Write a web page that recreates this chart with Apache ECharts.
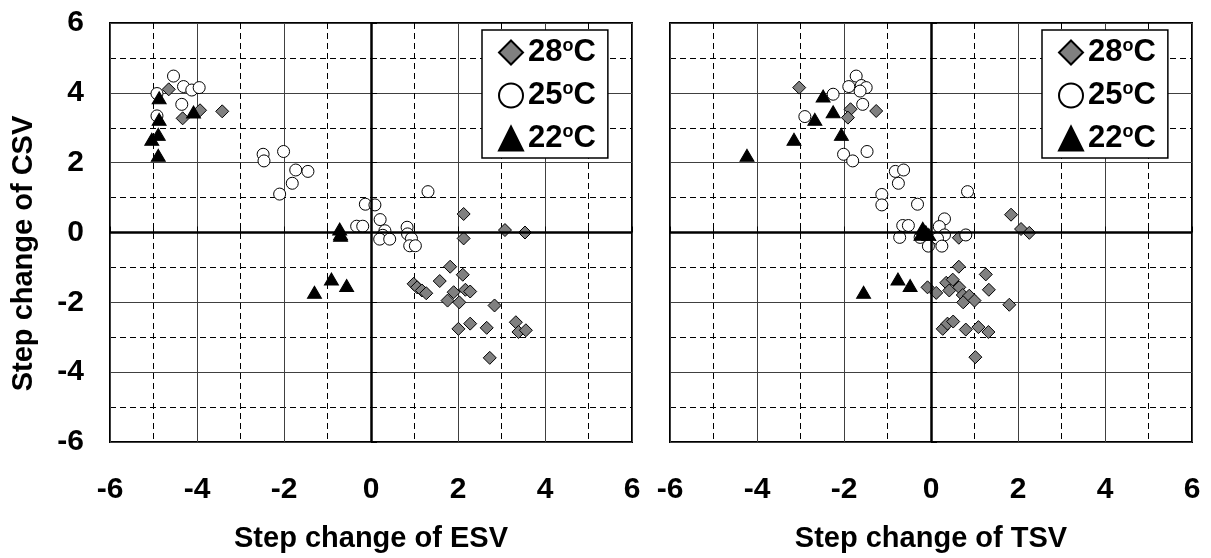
<!DOCTYPE html>
<html>
<head>
<meta charset="utf-8">
<script src="https://cdn.jsdelivr.net/npm/echarts@6/dist/echarts.min.js"></script>
<style>
  html, body { margin: 0; padding: 0; background: #fff; }
  #chart { width: 1211px; height: 558px; }
</style>
</head>
<body>
<div id="chart"></div>
<script>
// 图例名称（温度组）
const groupNames = ['28°C', '25°C', '22°C'];
const titleEsv = 'Step change of ESV';
const titleTsv = 'Step change of TSV';
const titleCsv = 'Step change of CSV';
const axisTicks = [-6, -4, -2, 0, 2, 4, 6];

// 左图: [ESV, CSV]
const esv28 = [
  [-4.65, 4.10], [-3.93, 3.50], [-4.33, 3.27], [-3.42, 3.47],
  [2.13, 0.53], [2.13, -0.17], [3.08, 0.07], [3.54, 0.00],
  [1.82, -0.98], [2.11, -1.21], [1.58, -1.39], [0.98, -1.47], [1.06, -1.57], [1.17, -1.66], [1.27, -1.74],
  [1.90, -1.71], [2.17, -1.64], [2.28, -1.69], [1.76, -1.95], [2.03, -2.00], [2.84, -2.09],
  [2.01, -2.76], [2.28, -2.61], [2.66, -2.73], [3.33, -2.57], [3.39, -2.85], [3.56, -2.80], [2.73, -3.59]
];
const esv25 = [
  [-4.54, 4.48], [-4.92, 3.98], [-4.31, 4.18], [-4.12, 4.08], [-3.95, 4.15], [-4.35, 3.67], [-4.92, 3.34],
  [-2.48, 2.24], [-2.46, 2.05], [-2.01, 2.32], [-1.73, 1.79], [-1.45, 1.75], [-1.81, 1.41], [-2.10, 1.10],
  [1.31, 1.17], [-0.13, 0.81], [0.09, 0.79], [0.21, 0.37], [-0.33, 0.18], [-0.19, 0.18], [0.32, 0.05],
  [0.27, -0.08], [0.20, -0.19], [0.43, -0.19], [0.83, 0.15], [0.84, -0.04], [0.93, -0.17], [0.89, -0.38], [1.02, -0.38]
];
const esv22 = [
  [-4.87, 3.86], [-4.08, 3.45], [-4.87, 3.24], [-4.89, 2.81], [-5.04, 2.67], [-4.89, 2.21],
  [-0.72, 0.10], [-0.70, -0.04], [-0.70, -0.08], [-0.91, -1.33], [-0.56, -1.52], [-1.30, -1.71]
];

// 右图: [TSV, CSV]
const tsv28 = [
  [-3.03, 4.15], [-1.85, 3.53], [-1.91, 3.29], [-1.26, 3.48],
  [0.64, -0.15], [1.84, 0.51], [2.07, 0.10], [2.26, -0.01], [0.64, -0.98], [1.26, -1.20], [1.33, -1.64],
  [1.80, -2.07], [-0.08, -1.57], [0.12, -1.73], [0.35, -1.44], [0.50, -1.35], [0.42, -1.66], [0.65, -1.57],
  [0.73, -1.79], [0.88, -1.81], [0.74, -2.00], [1.00, -1.95], [0.27, -2.76], [0.38, -2.61], [0.51, -2.55],
  [0.80, -2.78], [1.09, -2.71], [1.32, -2.85], [1.02, -3.57]
];
const tsv25 = [
  [-1.72, 4.48], [-1.89, 4.18], [-1.60, 4.21], [-1.49, 4.15], [-1.63, 4.05], [-2.25, 3.96], [-1.57, 3.67],
  [-2.90, 3.32], [-2.01, 2.24], [-1.80, 2.05], [-1.47, 2.32], [-0.82, 1.75], [-0.63, 1.79], [-0.75, 1.41],
  [-1.13, 1.09], [-1.13, 0.79], [-0.31, 0.81], [0.84, 1.17], [-0.65, 0.20], [-0.52, 0.20], [-0.72, -0.14],
  [0.31, 0.39], [0.19, 0.17], [0.31, -0.07], [0.15, -0.17], [-0.06, -0.39], [0.25, -0.39], [0.80, -0.07], [-0.25, -0.14]
];
const tsv22 = [
  [-2.48, 3.91], [-2.25, 3.46], [-2.67, 3.24], [-2.06, 2.81], [-3.15, 2.67], [-4.23, 2.21],
  [-0.19, 0.12], [-0.12, 0.02], [-0.23, -0.05], [-0.05, -0.06], [-0.76, -1.33], [-0.48, -1.52], [-1.55, -1.71]
];

const FONT = '"Liberation Sans", Arial, sans-serif';
const boldText = (size) => ({ fontFamily: FONT, fontWeight: 'bold', fontSize: size, color: '#000' });

// 坐标轴
function makeAxis(gridIndex, name, showLabel, isY) {
  const axis = {
    type: 'value',
    gridIndex: gridIndex,
    min: axisTicks[0],
    max: axisTicks[axisTicks.length - 1],
    interval: 2,
    name: name,
    nameLocation: 'middle',
    nameGap: isY ? 72 : 82,
    nameTextStyle: boldText(29),
    axisLine: { show: false },
    axisTick: { show: true, inside: true, length: 6, lineStyle: { color: '#000', width: 1 } },
    minorTick: { show: true, splitNumber: 2, length: 6, lineStyle: { color: '#000', width: 1 } },
    axisLabel: Object.assign({ show: showLabel, margin: isY ? 26 : 33, showMinLabel: true, showMaxLabel: true }, boldText(30)),
    splitLine: { show: true, lineStyle: { color: '#404040', width: 1 } },
    minorSplitLine: { show: true, lineStyle: { color: '#000', width: 1, type: [6, 4] } }
  };
  if (isY && name) axis.nameTextStyle.padding = [0, 42, 0, 0];
  return axis;
}

// 图例
function makeLegend(left) {
  return {
    orient: 'vertical',
    left: left,
    top: 30,
    padding: [7, 12, 4, 16],
    itemGap: 12,
    itemWidth: 24,
    itemHeight: 24,
    backgroundColor: '#fff',
    borderColor: '#000',
    borderWidth: 1.5,
    selectedMode: false,
    data: groupNames,
    formatter: (n) => '{n|' + n.slice(0, 2) + '}{s|o}{n|C}',
    textStyle: {
      rich: {
        n: Object.assign({ lineHeight: 31 }, boldText(31)),
        s: Object.assign({ lineHeight: 20, verticalAlign: 'top' }, boldText(18))
      }
    }
  };
}

const styles = [
  { symbol: 'diamond', symbolSize: 13, itemStyle: { color: '#808080', borderColor: '#000', borderWidth: 1, opacity: 1 } },
  { symbol: 'circle', symbolSize: 12, itemStyle: { color: '#fff', borderColor: '#000', borderWidth: 1, opacity: 1 } },
  { symbol: 'triangle', symbolSize: [14, 12], itemStyle: { color: '#000', borderColor: '#000', borderWidth: 1, opacity: 1 } }
];

function makeSeries(idx, sets) {
  const list = [{
    type: 'scatter',
    xAxisIndex: idx,
    yAxisIndex: idx,
    data: [],
    z: 1,
    silent: true,
    markLine: {
      symbol: 'none',
      silent: true,
      label: { show: false },
      lineStyle: { color: '#000', width: 2.5, type: 'solid' },
      emphasis: { disabled: true },
      data: [{ xAxis: 0 }, { yAxis: 0 }]
    }
  }];
  sets.forEach((d, i) => {
    list.push(Object.assign({
      type: 'scatter',
      name: groupNames[i],
      xAxisIndex: idx,
      yAxisIndex: idx,
      data: d,
      z: 3 + i
    }, styles[i]));
  });
  return list;
}

const chart = echarts.init(document.getElementById('chart'));
chart.setOption({
  backgroundColor: '#fff',
  animation: false,
  grid: [
    { left: 110, top: 23, width: 522, height: 420, show: true, borderColor: '#000', borderWidth: 2, backgroundColor: 'transparent' },
    { left: 670, top: 23, width: 522, height: 420, show: true, borderColor: '#000', borderWidth: 2, backgroundColor: 'transparent' }
  ],
  xAxis: [makeAxis(0, titleEsv, true, false), makeAxis(1, titleTsv, true, false)],
  yAxis: [makeAxis(0, titleCsv, true, true), makeAxis(1, '', false, true)],
  legend: [makeLegend(482), makeLegend(1042)],
  series: makeSeries(0, [esv28, esv25, esv22]).concat(makeSeries(1, [tsv28, tsv25, tsv22]))
});
</script>
</body>
</html>
